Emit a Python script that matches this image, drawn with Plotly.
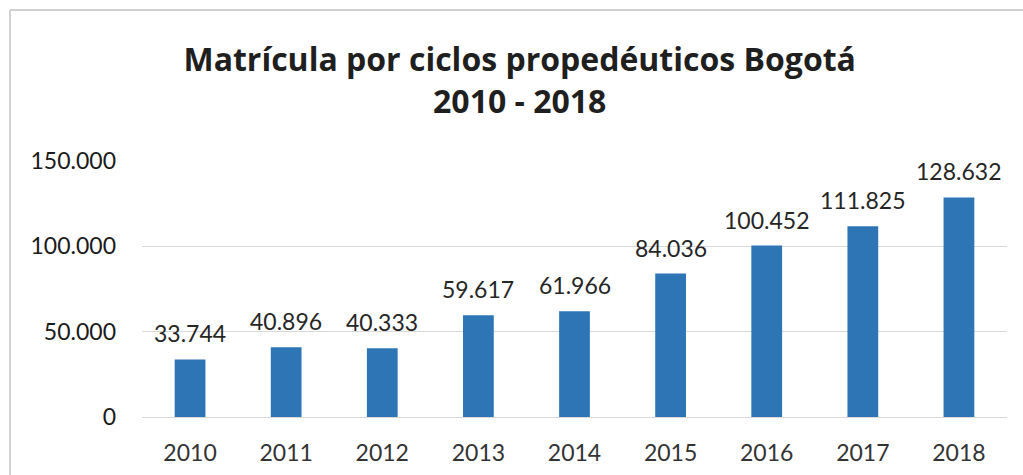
import plotly.graph_objects as go

years = ["2010", "2011", "2012", "2013", "2014", "2015", "2016", "2017", "2018"]
matricula = [33744, 40896, 40333, 59617, 61966, 84036, 100452, 111825, 128632]
y_ticks = [0, 50000, 100000, 150000]
y_tick_labels = ["0", "50.000", "100.000", "150.000"]

W, H = 1023, 475
ml, mr, mt, mb = 142, 16, 161, 58
pw, ph = W - ml - mr, H - mt - mb
FONT = "Lato, Open Sans, sans-serif"

fig = go.Figure(go.Bar(
    x=years, y=matricula,
    marker=dict(color="#2E75B6", line=dict(width=0)),
    hoverinfo="x+y",
))

# category axis: annotations positioned by category index
for i, v in enumerate(matricula):
    fig.add_annotation(
        x=i, y=v, xref="x", yref="y",
        text=f"{v:,}".replace(",", "."),
        showarrow=False, yanchor="bottom", yshift=10,
        font=dict(family=FONT, size=23, color="#262626"),
    )

fig.update_layout(
    width=W, height=H,
    margin=dict(l=ml, r=mr, t=mt, b=mb, autoexpand=False),
    separators=",.",
    paper_bgcolor="white", plot_bgcolor="white",
    bargap=0.68,
    showlegend=False,
    title=dict(
        text="Matrícula por ciclos propedéuticos Bogotá<br>2010 - 2018",
        x=0.508, xanchor="center", y=1 - 71 / H, yanchor="middle",
        font=dict(family="Open Sans, Lato, sans-serif", size=32, color="#1f1f1f", weight="bold"),
    ),
    xaxis=dict(
        type="category", range=[-0.5, len(years) - 0.5], automargin=False,
        showgrid=False, showline=False, ticks="",
        tickfont=dict(family=FONT, size=23, color="#333333"),
        ticklabelstandoff=20,
    ),
    yaxis=dict(
        range=[0, 150000], tickvals=y_ticks, ticktext=y_tick_labels, automargin=False,
        showgrid=True, gridcolor="#d9d9d9", gridwidth=1,
        zeroline=True, zerolinecolor="#d9d9d9", zerolinewidth=1,
        showline=False, ticks="",
        tickfont=dict(family=FONT, size=23, color="#1a1a1a"),
        ticklabelstandoff=25,
    ),
    shapes=[
        dict(type="line", xref="paper", yref="paper",
             x0=(10 - ml) / pw, x1=(W + 40 - ml) / pw,
             y0=1 + (mt - 10) / ph, y1=1 + (mt - 10) / ph,
             line=dict(color="#d0d0d0", width=2)),
        dict(type="line", xref="paper", yref="paper",
             x0=(10 - ml) / pw, x1=(10 - ml) / pw,
             y0=-(mb + 40) / ph, y1=1 + (mt - 10) / ph,
             line=dict(color="#d0d0d0", width=2)),
    ],
)

fig.write_html("out.html")
